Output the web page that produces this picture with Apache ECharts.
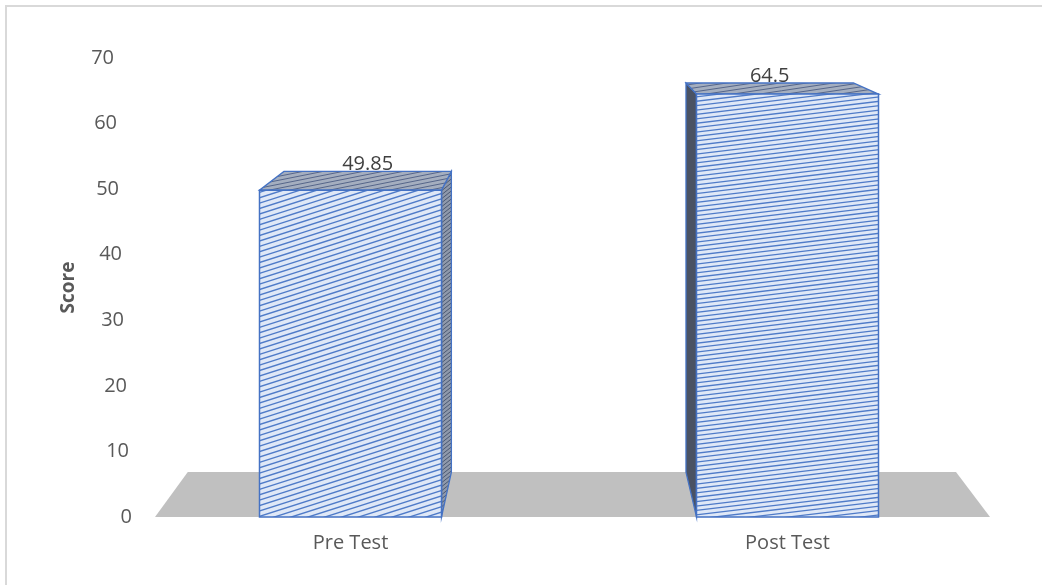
<!DOCTYPE html>
<html>
<head>
<meta charset="utf-8">
<script src="https://cdn.jsdelivr.net/npm/echarts@6/dist/echarts.min.js"></script>
<style>
    html, body { margin: 0; padding: 0; background: #fff; }
    #chart { width: 1042px; height: 585px; }
</style>
</head>
<body>
<div id="chart"></div>
<script>
// data
var categories = ['Pre Test', 'Post Test'];
var scores = [49.85, 64.5];
var yTicks = [0, 10, 20, 30, 40, 50, 60, 70];

// fake perspective: back points are pulled toward a vanishing point
var VP = [565, -44];
var DEPTH = 0.92;
var BAR_W = 182;

function toBack(p) {
    return [VP[0] + (p[0] - VP[0]) * DEPTH, VP[1] + (p[1] - VP[1]) * DEPTH];
}

/**
 * 画一张整幅大小的斜线纹理，直接当填充用，避免平铺接缝
 */
function hatch(bg, line, gap, slope, lw) {
    var w = 1042, h = 585;
    var c = document.createElement('canvas');
    c.width = w;
    c.height = h;
    var ctx = c.getContext('2d');
    ctx.fillStyle = bg;
    ctx.fillRect(0, 0, w, h);
    ctx.strokeStyle = line;
    ctx.lineWidth = lw;
    for (var y0 = 0; y0 < h + w * slope + gap; y0 += gap) {
        ctx.beginPath();
        ctx.moveTo(0, y0);
        ctx.lineTo(w, y0 - w * slope);
        ctx.stroke();
    }
    return { image: c, repeat: 'no-repeat' };
}

var fronts = [hatch('#dfe8f7', '#4f7bc8', 5.4, 0.32, 1.4), hatch('#dfe8f7', '#4f7bc8', 4.4, 0.12, 1.3)];
var tops = [hatch('#a4aebf', '#56668a', 4, 0.2, 1), hatch('#a4aebf', '#56668a', 4, 0.15, 1)];
var sideRight = hatch('#8f99ab', '#4a5872', 4, 0.8, 1);
var sideLeft = hatch('#4a5263', '#2c3444', 3, -1.2, 1);
var edge = '#4472c4';

var yRich = {};
yTicks.forEach(function(v) {
    yRich['t' + v] = {
        fontFamily: 'Open Sans',
        fontSize: 20,
        color: '#595959',
        padding: [0, Math.round(v / 70 * 18), 0, 0]
    };
});

function renderFloor(params, api) {
    var cs = params.coordSys;
    var y0 = api.coord([0, 0])[1];
    var fl = [cs.x + 23, y0];
    var fr = [cs.x + cs.width - 16, y0];
    return {
        type: 'polygon',
        shape: { points: [fl, fr, toBack(fr), toBack(fl)] },
        style: { fill: '#c0c0c0' },
        silent: true
    };
}

function renderBar(params, api) {
    var i = api.value(0);
    var top = api.coord([i, api.value(1)]);
    var base = api.coord([i, 0]);
    var l = top[0] - BAR_W / 2, r = top[0] + BAR_W / 2;
    var tl = [l, top[1]], tr = [r, top[1]], bl = [l, base[1]], br = [r, base[1]];
    var children = [];
    var sideStyle = { lineWidth: 1.3, stroke: edge };
    if (r < VP[0]) {
        children.push({
            type: 'polygon',
            shape: { points: [tr, toBack(tr), toBack(br), br] },
            style: Object.assign({ fill: sideRight }, sideStyle)
        });
    }
    if (l > VP[0]) {
        children.push({
            type: 'polygon',
            shape: { points: [tl, toBack(tl), toBack(bl), bl] },
            style: Object.assign({ fill: sideLeft }, sideStyle)
        });
    }
    children.push({
        type: 'polygon',
        shape: { points: [tl, tr, toBack(tr), toBack(tl)] },
        style: Object.assign({ fill: tops[i] }, sideStyle)
    });
    children.push({
        type: 'polygon',
        shape: { points: [tl, tr, br, bl] },
        style: { fill: fronts[i], stroke: edge, lineWidth: 1.5 }
    });
    var bt = toBack(tl), btr = toBack(tr);
    children.push({
        type: 'text',
        style: {
            x: (bt[0] + btr[0]) / 2,
            y: bt[1] + 3,
            text: String(api.value(1)),
            align: 'center',
            verticalAlign: 'bottom',
            fontFamily: 'Open Sans',
            fontSize: 20,
            fill: '#404040'
        }
    });
    return { type: 'group', children: children };
}

var chart = echarts.init(document.getElementById('chart'));
chart.setOption({
    animation: false,
    backgroundColor: '#fff',
    graphic: [{
        type: 'rect',
        shape: { x: 6, y: 6, width: 1100, height: 700 },
        style: { fill: 'none', stroke: '#d9d9d9', lineWidth: 2 },
        silent: true
    }],
    grid: { left: 132, right: 36, top: 58, bottom: 68 },
    xAxis: {
        type: 'category',
        data: categories,
        axisLine: { show: false },
        axisTick: { show: false },
        axisLabel: { margin: 16, fontFamily: 'Open Sans', fontSize: 20, color: '#595959' }
    },
    yAxis: {
        type: 'value',
        min: 0,
        max: 70,
        interval: 10,
        name: 'Score',
        nameLocation: 'middle',
        nameGap: 54,
        nameTextStyle: { fontFamily: 'Open Sans', fontSize: 19, fontWeight: 'bold', color: '#595959' },
        splitLine: { show: false },
        axisLine: { show: false },
        axisTick: { show: false },
        axisLabel: {
            margin: 0,
            formatter: function(v) {
                return '{t' + v + '|' + v + '}';
            },
            rich: yRich
        }
    },
    series: [{
        type: 'custom',
        renderItem: renderFloor,
        data: [[0, 0]],
        encode: { x: 0, y: 1 },
        z: 1,
        silent: true
    }, {
        type: 'custom',
        renderItem: renderBar,
        data: scores.map(function(s, i) { return [i, s]; }),
        encode: { x: 0, y: 1 },
        z: 2
    }]
});
</script>
</body>
</html>
